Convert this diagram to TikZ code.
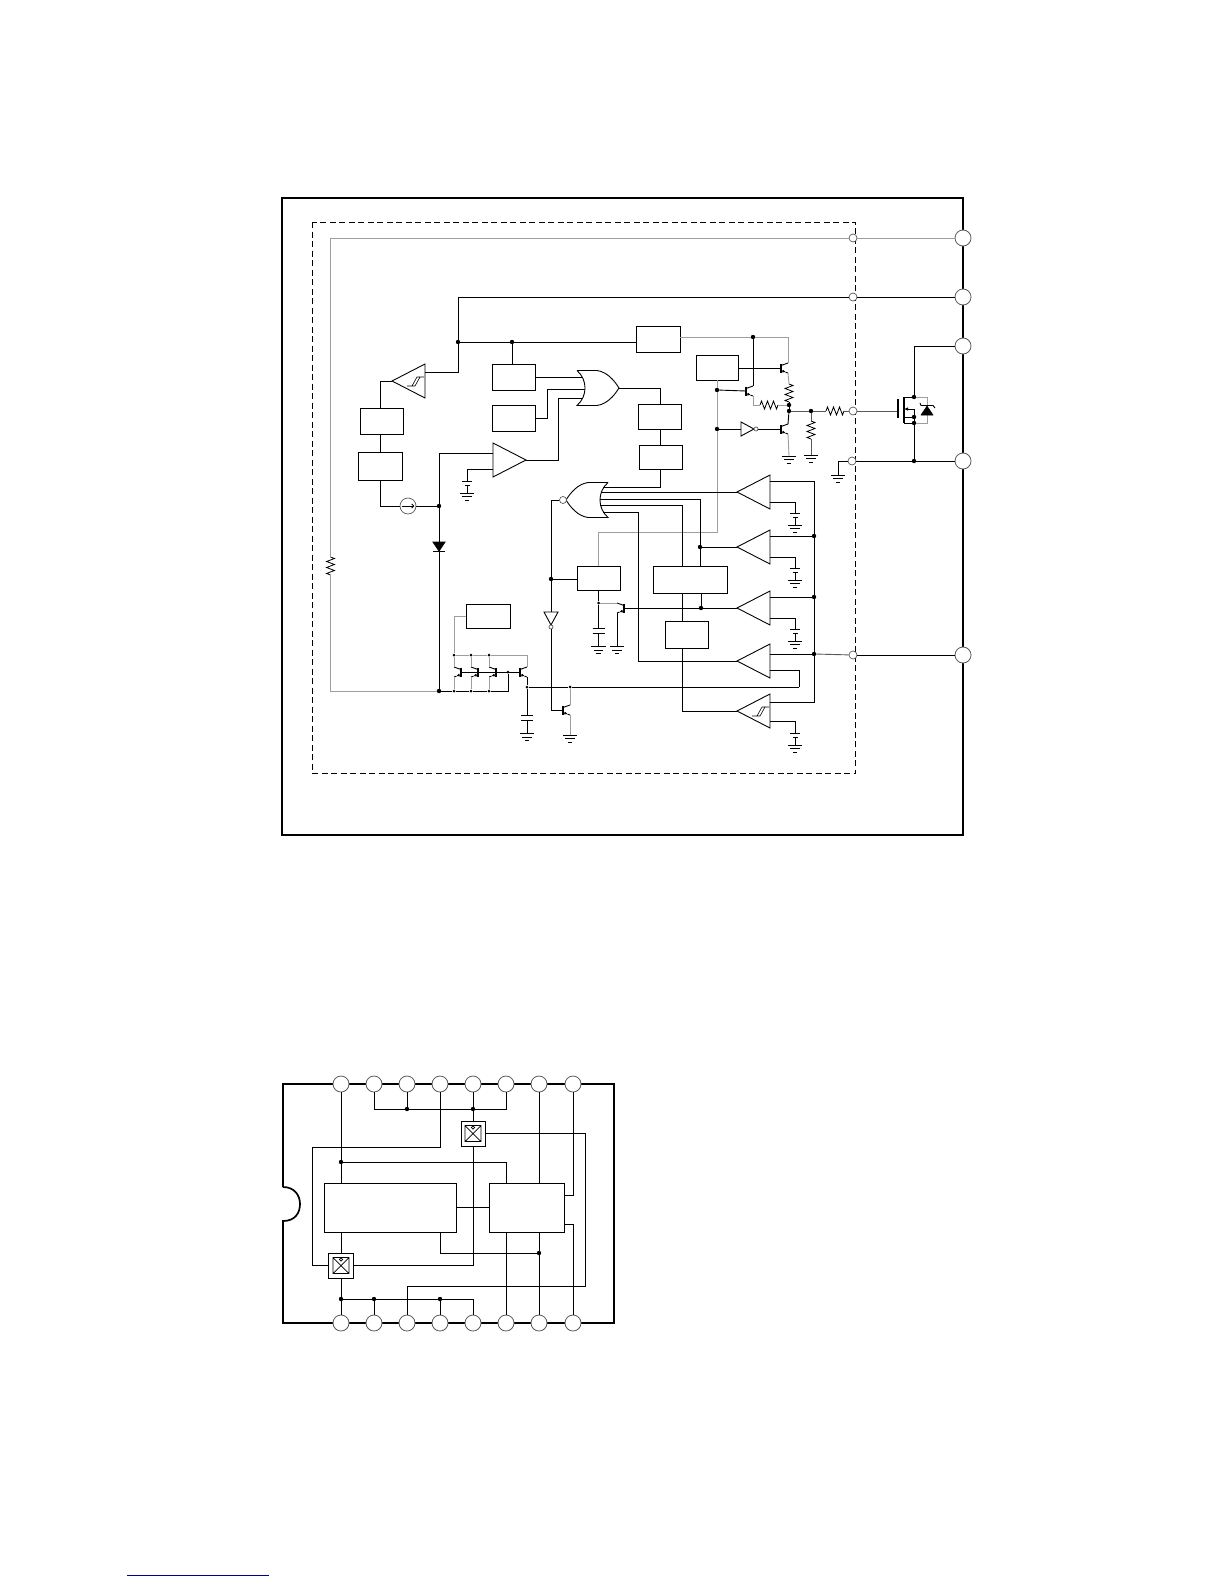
\documentclass[tikz,border=0pt]{standalone}
\usetikzlibrary{calc,arrows.meta}
\definecolor{palegray}{gray}{0.62}
\definecolor{rimgray}{gray}{0.35}
\definecolor{linkblue}{RGB}{0,0,153}

\begin{document}
\begin{tikzpicture}[
  x=1pt, y=-1pt,
  wire/.style={line width=0.9pt, black},
  pale/.style={line width=0.9pt, palegray},
  box/.style={draw, line width=0.9pt, inner sep=0pt, minimum width=43pt, minimum height=26pt},
  dot/.style={circle, fill=black, inner sep=0pt, minimum size=4.4pt},
  via/.style={circle, draw=rimgray, line width=0.7pt, fill=white, inner sep=0pt, minimum size=8pt},
  pin/.style={circle, draw=rimgray, line width=0.8pt, fill=white, inner sep=0pt, minimum size=16pt},
  comp/.pic={
    \draw[wire] (0,0) -- (33,-17) -- (33,17) -- cycle;
    \coordinate (-tip) at (0,0);
    \coordinate (-up) at (33,-11);
    \coordinate (-lo) at (33,10);
  },
  schmitt/.pic={
    \draw[wire] (0,0) -- (33,-17) -- (33,17) -- cycle;
    \draw[line width=0.6pt] (15,5) -- (23,5) -- (28,-4) -- (32,-4) (20,5) -- (25,-4) -- (28,-4);
    \coordinate (-tip) at (0,0);
    \coordinate (-up) at (33,-9);
    \coordinate (-lo) at (33,10);
  },
  orgate/.pic={
    \draw[wire] (0,-17.5) -- (20,-17.5) .. controls (30,-16) and (37,-8) .. (42,0)
      .. controls (37,8) and (30,16) .. (20,17.5) -- (0,17.5)
      .. controls (10.7,8) and (10.7,-8) .. (0,-17.5);
    \coordinate (-tip) at (42,0);
  },
  qbar/.pic={
    \draw[line width=1.6pt] (0,-4.5) -- (0,4.5);
    \draw[wire] (0,-2.5) -- (7,-5);
    \draw[wire, -{Latex[length=3pt,width=3pt]}] (0,2.5) -- (4.5,4.1);
    \draw[wire] (4.5,4.1) -- (7,5);
    \coordinate (-b) at (0,0);
    \coordinate (-c) at (7,-5);
    \coordinate (-e) at (7,5);
  },
  zig/.pic={
    \draw[line width=0.8pt] (0,0) -- (1.5,-4) -- (4.5,4) -- (7.5,-4) -- (10.5,4) -- (13.5,-4) -- (16.5,4) -- (18,0);
    \coordinate (-a) at (0,0);
    \coordinate (-z) at (18,0);
  },
  gnd/.pic={
    \draw[wire] (-7.2,0) -- (7.2,0) (-4.6,3.6) -- (4.6,3.6) (-2.2,7.2) -- (2.2,7.2);
  },
  vref/.pic={
    \draw[wire] (-4.7,0) -- (4.7,0) (-2.5,4.5) -- (2.5,4.5) (0,4.5) -- (0,12);
    \pic at (0,12) {gnd};
    \coordinate (-top) at (0,0);
  },
  capg/.pic={
    \draw[wire] (-6,0) -- (6,0) (-6,5) -- (6,5) (0,5) -- (0,18.5);
    \pic at (0,18.5) {gnd};
    \coordinate (-top) at (0,0);
  },
  inv/.pic={
    \draw[wire] (0,-7) -- (0,7) -- (13,0) -- cycle;
    \draw[line width=0.7pt, draw=rimgray, fill=white] (15,0) circle (2);
    \coordinate (-in) at (0,0);
    \coordinate (-out) at (17,0);
  },
  swx/.pic={
    \draw[line width=0.7pt] (-8,-8) rectangle (8,8) (-8,-8) -- (8,8) (8,-8) -- (-8,8);
    \draw[line width=0.6pt, fill=white] (0,-6) circle (1.6);
  }
]
  % frame and dashed block
  \draw[line width=1.9pt] (282,198) rectangle (963,835);
  \draw[line width=0.9pt, dash pattern=on 6pt off 3.5pt] (312.5,222) rectangle (855.5,773.5);
  \useasboundingbox (0,0) rectangle (1224,1584);

  % pads
  \node[pin] (pina) at (963,238) {};
  \node[pin] (pinb) at (963,297) {};
  \node[pin] (pinc) at (963,346) {};
  \node[pin] (pind) at (963,461) {};
  \node[pin] (pine) at (963,655) {};
  \node[via] (viaa) at (853,238) {};
  \node[via] (viab) at (853,297) {};
  \node[via] (viag) at (853,411) {};
  \node[via] (viad) at (852,461) {};
  \node[via] (viae) at (853,655) {};

  % blocks
  \node[box, minimum width=44pt] (boxj) at (658,339) {};
  \node[box, minimum width=42pt, minimum height=25pt] (boxh) at (717,367.5) {};
  \node[box] (boxa) at (513.5,377) {};
  \node[box] (boxb) at (513.5,418) {};
  \node[box, minimum height=25pt] (boxc) at (660,416.5) {};
  \node[box, minimum height=24pt] (boxd) at (660.5,457) {};
  \node[box] (boxm) at (381.5,421) {};
  \node[box, minimum width=44pt, minimum height=28pt] (boxn) at (380,466) {};
  \node[box, minimum height=24pt] (boxg) at (598.5,578) {};
  \node[box, minimum width=74pt, minimum height=27pt] (boxe) at (690,579.5) {};
  \node[box, minimum height=27pt] (boxf) at (686.5,634.5) {};
  \node[box, minimum width=44pt, minimum height=24pt] (boxi) at (488,616) {};
  \node[circle, draw=rimgray, line width=0.7pt, inner sep=0pt, minimum size=16pt] (ccs) at (408,506) {};

  % junctions
  \node[dot] (da) at (458,342) {};
  \node[dot] (db) at (512,342) {};
  \node[dot] (dc) at (439,506) {};
  \node[dot] (dd) at (439,691) {};
  \node[dot] (de) at (551,579) {};
  \node[dot] (df) at (700,547) {};
  \node[dot] (dg) at (701,608) {};
  \node[dot] (dh) at (814,536) {};
  \node[dot] (di) at (814,597) {};
  \node[dot] (dj) at (814,654) {};
  \node[dot] (dk) at (717,390) {};
  \node[dot] (dl) at (717,429) {};
  \node[dot] (dm) at (753,337) {};
  \node[dot] (dn) at (789,405) {};
  \node[dot] (dq) at (789,411) {};
  \node[dot] (dp) at (811,411) {};
  \node[dot] (ma) at (914,397) {};
  \node[dot] (mb) at (914,417) {};
  \node[dot] (mc) at (914,423) {};
  \node[dot] (md) at (914,461) {};
  \node[dot, minimum size=3pt] (du) at (527,687) {};
  \node[dot, minimum size=3pt] (dv) at (570,687) {};
  \node[dot, minimum size=3pt] (dw) at (598.5,603) {};
  \node[dot, minimum size=3pt] (ta) at (454,655) {};
  \node[dot, minimum size=3pt] (tb) at (471,655) {};
  \node[dot, minimum size=3pt] (tc) at (489,655) {};
  \node[dot, minimum size=3pt] (ba) at (454,691) {};
  \node[dot, minimum size=3pt] (bb) at (471,691) {};
  \node[dot, minimum size=3pt] (bc) at (489,691) {};
  \node[dot, minimum size=3pt] (dx) at (508,672) {};

  % comparators and gates
  \pic (sma) at (392,381) {schmitt};
  \pic[xscale=-1] (cmpf) at (526,460) {comp};
  \pic (cmpa) at (737,492) {comp};
  \pic (cmpb) at (737,547) {comp};
  \pic (cmpc) at (737,608) {comp};
  \pic (cmpd) at (737,661) {comp};
  \pic (cmpe) at (737,711) {schmitt};
  \pic (ora) at (577,388) {orgate};
  \pic[xscale=-1] (nora) at (608,500) {orgate};
  \node[via, minimum size=7pt] (norb) at (563,500) {};
  \pic (inva) at (741,429) {inv};
  \pic[rotate=-90] (invb) at (551,612) {inv};

  % transistors
  \pic (qa) at (781,368) {qbar};
  \pic (qb) at (746,391) {qbar};
  \pic (qc) at (781,429) {qbar};
  \pic (qd) at (563,710) {qbar};
  \pic[xscale=-1] (qe) at (624,608) {qbar};
  \pic[xscale=-1] (ta1) at (461,672) {qbar};
  \pic[xscale=-1] (ta2) at (478,672) {qbar};
  \pic[xscale=-1] (ta3) at (496,672) {qbar};
  \pic (ta4) at (520,672) {qbar};

  % resistors
  \pic[rotate=-90] (rl) at (330.5,557) {zig};
  \pic[rotate=-90] (rv) at (789,384) {zig};
  \pic (rh) at (760,405) {zig};
  \pic (rg) at (826,411) {zig};
  \pic[rotate=-90] (rp) at (811,421) {zig};

  % references and grounds
  \pic (vrf) at (467,481) {vref};
  \pic (vra) at (795,513) {vref};
  \pic (vrb) at (795,568) {vref};
  \pic (vrc) at (795,629) {vref};
  \pic (vre) at (795,733) {vref};
  \pic (cpa) at (527,715) {capg};
  \pic (cpb) at (598.5,628) {capg};
  \coordinate (gqc) at (789,456);
  \coordinate (grp) at (811,455);
  \coordinate (gqd) at (570,735);
  \coordinate (gqe) at (617,646.5);
  \coordinate (gvd) at (838,475);
  \pic at (gqc) {gnd};
  \pic at (grp) {gnd};
  \pic at (gqd) {gnd};
  \pic at (gqe) {gnd};
  \pic at (gvd) {gnd};

  % left rail and supply lines
  \draw[pale] (pina) -- (viaa);
  \draw[pale] (viaa) -| (rl-a);
  \draw[pale] (rl-z) |- (dd);
  \draw[wire] (pinb) -- (viab);
  \draw[wire] (viab) -| (da);
  \draw[wire] (da) |- (sma-up);
  \draw[wire] (da) -- (db);
  \draw[wire] (db) -- (boxj.west |- db);
  \draw[wire] (db) -- (db |- boxa.north);
  \draw[wire] (sma-tip) -| (boxn |- boxm.north);
  \draw[wire] (boxm.south -| boxn) -- (boxn.north);
  \draw[wire] (boxn.south) |- (ccs);
  \draw[wire] (ccs) -- (dc);
  \draw[wire, -{Straight Barb[length=2pt,width=4pt]}, shorten <=2pt, shorten >=2pt] (ccs.west) -- (ccs.east);
  \draw[wire] (dc) -- (dd);
  \draw[wire] (dc) |- (493,453);
  \draw[wire] (493,469) -| (vrf-top);
  \draw[wire, fill=black] (433,542) -- (445,542) -- (439,551) -- cycle;
  \draw[wire] (433,551) -- (445,551);

  % input gate
  \draw[wire] (boxa.east) -- (583,377);
  \draw[wire] (boxb.east) -- (547,418) -- (547,389) -- (585,389);
  \draw[wire] (cmpf-tip) -- (558,460) -- (558,398) -- (583,398);
  \draw[wire] (ora-tip) -| (boxc.north);
  \draw[wire] (boxc.south) -- (boxc.south |- boxd.north);
  \draw[wire] (boxd.south) |- (603,487);

  % output stage
  \draw[pale] (dm -| boxj.east) -- (dm);
  \draw[pale] (dm) -| (qa-c);
  \draw[wire] (dm) -- (qb-c);
  \draw[wire] (boxh.east |- qa-b) -- (qa-b);
  \draw[pale] (boxh.south) -- (dk);
  \draw[pale] (dk) -- (dl);
  \coordinate (gk) at (598.5,532);
  \draw[pale] (dl) |- (gk);
  \draw[pale] (gk) -- (boxg.north);
  \draw[wire] (dk) -- (qb-b);
  \draw[wire] (dl) -- (inva-in);
  \draw[wire] (inva-out) -- (qc-b);
  \draw[pale] (qa-e) -- (rv-a);
  \draw[wire] (rv-z) -- (dn);
  \draw[pale] (qb-e) |- (rh-a);
  \draw[pale] (rh-z) -- (dn);
  \draw[wire] (dn) -- (dq);
  \draw[wire] (qc-c) -- (dq);
  \draw[pale] (qc-e) -- (gqc);
  \draw[rimgray, line width=0.9pt] (dq) -- (dp);
  \draw[rimgray, line width=0.9pt] (dp) -- (rg-a);
  \draw[rimgray, line width=0.9pt] (rg-z) -- (viag);
  \draw[rimgray, line width=0.9pt] (dp) -- (rp-a);
  \draw[rimgray, line width=0.9pt] (rp-z) -- (grp);

  % power device
  \coordinate (mg) at (898,411);
  \draw[rimgray, line width=0.9pt] (viag) -- (mg);
  \draw[line width=1.1pt] (898,399) -- (898,418);
  \draw[line width=1.1pt] (904,397) -- (904,423);
  \draw[wire] (pinc) -| (ma);
  \draw[wire] (ma) -- (904,397);
  \draw[wire] (914,409) -- (mb);
  \draw[wire, -{Latex[length=4pt,width=3.5pt]}] (914,409) -- (904,409);
  \draw[wire] (mb) -- (904,417);
  \draw[wire] (mc) -- (904,423);
  \draw[wire] (mb) -- (mc);
  \draw[wire] (mc) -- (md);
  \draw[wire] (viad) -- (md);
  \draw[wire] (md) -- (pind);
  \draw[wire] (viad) -| (gvd);
  \draw[pale] (ma) -| (927,423) -- (mc);
  \draw[black, fill=black, line width=0.5pt] (927,406) -- (921,415) -- (933,415) -- cycle;
  \draw[wire] (920,403) -- (921,405.5) -- (933,405.5) -- (935,408);

  % comparators to nor gate
  \draw[wire] (cmpa-tip) -- (601,492);
  \draw[wire] (600,499) -| (df);
  \draw[wire] (df) -- (cmpb-tip);
  \draw[wire] (df) -- (df |- boxe.north);
  \draw[wire] (600,505) -| (682,566);
  \draw[wire] (682,593) -- (682,621);
  \draw[wire] (682,648) |- (cmpe-tip);
  \draw[wire] (603,512) -| (638,661) -- (cmpd-tip);
  \draw[wire] (dg |- boxe.south) -- (dg);
  \draw[wire] (qe-b) -- (dg);
  \draw[wire] (dg) -- (cmpc-tip);

  % right hand rail
  \draw[wire] (cmpa-up) -| (dh);
  \draw[wire] (dh) -- (di);
  \draw[wire] (di) -- (dj);
  \draw[wire] (dj) |- (cmpe-up);
  \draw[wire] (cmpb-up) -- (dh);
  \draw[wire] (cmpc-up) -- (di);
  \draw[wire] (770,654) -- (dj);
  \draw[rimgray, line width=0.9pt] (dj) -- (viae);
  \draw[wire] (viae) -- (pine);
  \draw[wire] (cmpa-lo) -| (vra-top);
  \draw[wire] (cmpb-lo) -| (vrb-top);
  \draw[wire] (cmpc-lo) -| (vrc-top);
  \draw[wire] (cmpe-lo) -| (vre-top);
  \draw[wire] (770,670) -| (799,687);
  \draw[wire] (799,687) -- (dv);
  \draw[wire] (dv) -- (du);

  % nor output and timer
  \draw[wire] (norb) -- (551,500) -- (de);
  \draw[wire] (de) -- (boxg.west |- de);
  \draw[wire] (de) -- (invb-in);
  \draw[wire] (invb-out) |- (qd-b);
  \draw[pale] (qd-c) -- (dv);
  \draw[pale] (qd-e) -- (gqd);
  \draw[wire] (boxg.south) -- (dw);
  \draw[wire] (dw) -- (cpb-top);
  \draw[pale] (dw) -- (qe-c);
  \draw[wire] (qe-e) -- (gqe);

  % mirror
  \draw[pale] (ta) |- (boxi.west);
  \draw[pale] (ta) -- (tb);
  \draw[pale] (tb) -- (tc);
  \draw[pale] (tc) -- (527,655) -- (ta4-c);
  \draw[pale] (ta) -- (ta1-c);
  \draw[pale] (tb) -- (ta2-c);
  \draw[pale] (tc) -- (ta3-c);
  \draw[pale] (ba) -- (ta1-e);
  \draw[pale] (bb) -- (ta2-e);
  \draw[pale] (bc) -- (ta3-e);
  \draw[wire] (ta1-b) -- (ta4-b);
  \draw[wire] (dd) -- (ba);
  \draw[wire] (ba) -- (bb);
  \draw[wire] (bb) -- (bc);
  \draw[wire] (bc) -| (dx);
  \draw[wire] (ta4-e) -- (du);
  \draw[wire] (du) -- (cpa-top);

  % package view
  \draw[line width=1.7pt] (283,1187) -- (283,1084) -- (614,1084) -- (614,1323) -- (283,1323) -- (283,1221)
    .. controls (295,1221) and (300,1213) .. (300,1204) .. controls (300,1196) and (295,1187) .. (283,1187);

  \node[pin] (tpa) at (341,1084) {};
  \node[pin] (tpb) at (374,1084) {};
  \node[pin] (tpc) at (407,1084) {};
  \node[pin] (tpd) at (440,1084) {};
  \node[pin] (tpe) at (473,1084) {};
  \node[pin] (tpf) at (506,1084) {};
  \node[pin] (tpg) at (539,1084) {};
  \node[pin] (tph) at (573,1084) {};
  \node[pin] (bta) at (341,1323) {};
  \node[pin] (btb) at (374,1323) {};
  \node[pin] (btc) at (407,1323) {};
  \node[pin] (btd) at (440,1323) {};
  \node[pin] (bte) at (473,1323) {};
  \node[pin] (btf) at (506,1323) {};
  \node[pin] (btg) at (539,1323) {};
  \node[pin] (bth) at (573,1323) {};

  \node[box, minimum width=132pt, minimum height=49pt] (chipk) at (390,1207.5) {};
  \node[box, minimum width=75pt, minimum height=49pt] (chipl) at (526.5,1207.5) {};
  \node[box, minimum width=24pt, minimum height=25pt] (swa) at (473,1133.5) {};
  \node[box, minimum width=25pt, minimum height=25pt] (swb) at (341,1265.5) {};
  \pic at (swa) {swx};
  \pic at (swb) {swx};

  \node[dot] (pa) at (407,1109) {};
  \node[dot] (pb) at (473,1109) {};
  \node[dot] (pc) at (341,1162) {};
  \node[dot] (pd) at (539,1253) {};
  \node[dot] (pe) at (341,1299) {};
  \node[dot] (pf) at (374,1299) {};
  \node[dot] (pg) at (440,1299) {};

  \draw[wire] (tpb) |- (pa);
  \draw[wire] (pa) -- (pb);
  \draw[wire] (pb) -| (tpf);
  \draw[wire] (tpc) -- (pa);
  \draw[wire] (tpe) -- (pb);
  \draw[wire] (pb) -- (swa);
  \draw[wire] (swa) |- (swb);
  \draw[wire] (swa.east) -| (585,1286) -| (btc);
  \draw[wire] (tpa) -- (pc);
  \draw[wire] (pc) -- (pc |- chipk.north);
  \draw[wire] (pc) -| (tpf |- chipl.north);
  \draw[wire] (tpd) |- (312,1147) |- (swb);
  \draw[wire] (chipk) -- (chipl);
  \draw[wire] (tpg) -- (tpg |- chipl.north);
  \draw[wire] (tph) |- (chipl.east |- 0,1195);
  \draw[wire] (chipl.east |- 0,1224) -| (bth);
  \draw[wire] (btg) -- (pd);
  \draw[wire] (pd) -- (pd |- chipl.south);
  \draw[wire] (tpd |- chipk.south) |- (pd);
  \draw[wire] (btf) -- (btf |- chipl.south);
  \draw[wire] (pc |- chipk.south) -- (swb);
  \draw[wire] (swb) -- (pe);
  \draw[wire] (pe) -- (bta);
  \draw[wire] (pe) -- (pf);
  \draw[wire] (pf) -- (pg);
  \draw[wire] (pg) -| (bte);
  \draw[wire] (pf) -- (btb);
  \draw[wire] (pg) -- (btd);

  % link rule at the foot
  \draw[linkblue, line width=1pt] (127,1575) -- (269,1575);
\end{tikzpicture}
\end{document}
